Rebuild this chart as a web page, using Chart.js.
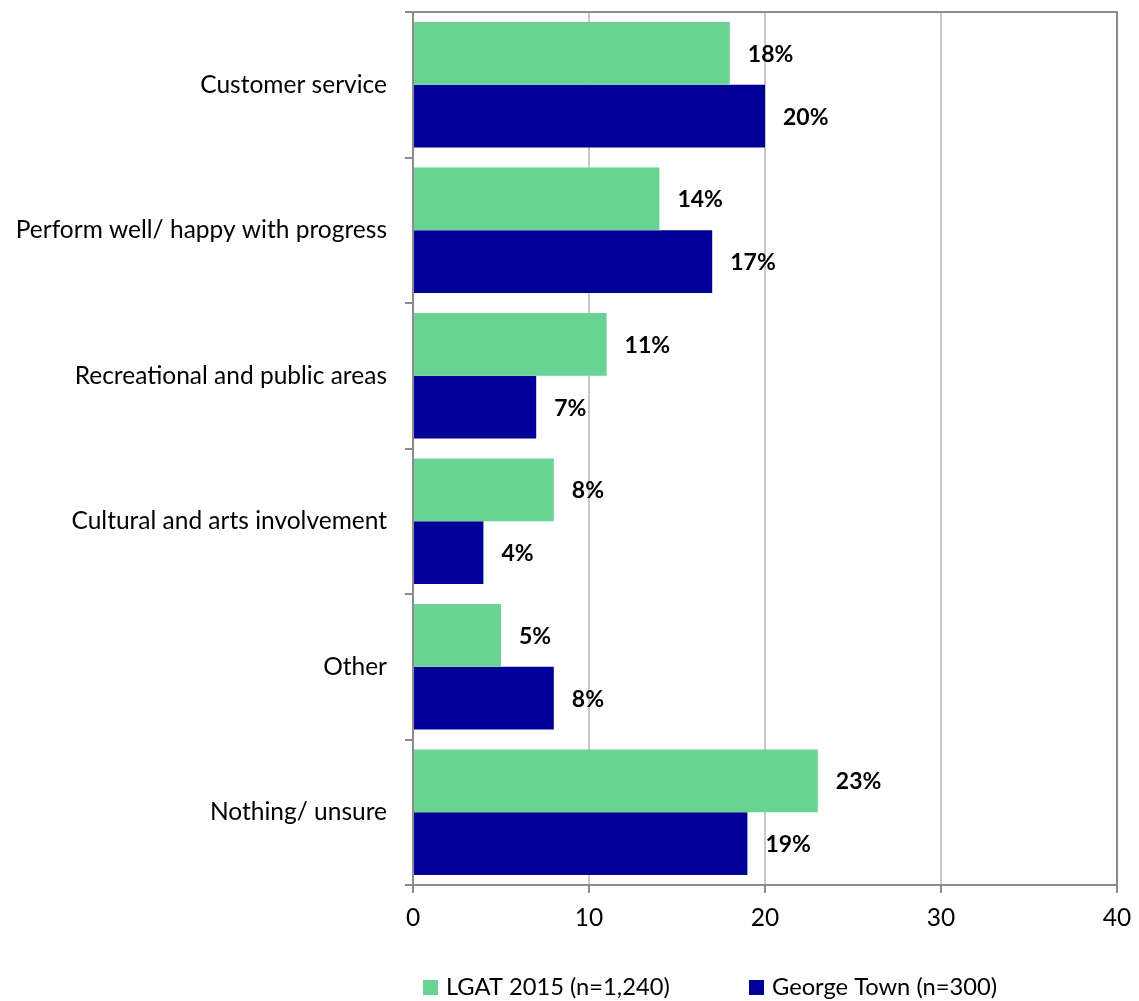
<!DOCTYPE html>
<html>
<head>
<meta charset="utf-8">
<title>Chart</title>
<script src="https://cdn.jsdelivr.net/npm/chart.js@4"></script>
<style>
  body { margin: 0; background: #fff; }
  #wrap { width: 1139px; height: 1001px; }
</style>
</head>
<body>
<div id="wrap"><canvas id="myChart" width="1139" height="1001"></canvas></div>
<script>
// Categories and series
const categories = [
  'Customer service',
  'Perform well/ happy with progress',
  'Recreational and public areas',
  'Cultural and arts involvement',
  'Other',
  'Nothing/ unsure'
];
const lgatValues = [18, 14, 11, 8, 5, 23];
const georgeTownValues = [20, 17, 7, 4, 8, 19];
const seriesNames = ['LGAT 2015 (n=1,240)', 'George Town (n=300)'];
const xTicks = [0, 10, 20, 30, 40];

const FONT = 'Lato, "Open Sans", sans-serif';

// value labels to the right of each bar
const barLabels = {
  id: 'barLabels',
  afterDatasetsDraw(chart) {
    const ctx = chart.ctx;
    ctx.save();
    ctx.font = 'bold 23px ' + FONT;
    ctx.fillStyle = '#000';
    ctx.textAlign = 'left';
    ctx.textBaseline = 'middle';
    chart.data.datasets.forEach((ds, i) => {
      chart.getDatasetMeta(i).data.forEach((bar, j) => {
        ctx.fillText(ds.data[j] + '%', bar.x + 18, bar.y + 1);
      });
    });
    ctx.restore();
  }
};

// top and right edges of the plot box
const plotFrame = {
  id: 'plotFrame',
  afterDraw(chart) {
    const a = chart.chartArea;
    const ctx = chart.ctx;
    ctx.save();
    ctx.strokeStyle = '#8c8c8c';
    ctx.lineWidth = 2;
    ctx.beginPath();
    ctx.moveTo(a.left, a.top);
    ctx.lineTo(a.right, a.top);
    ctx.lineTo(a.right, a.bottom);
    ctx.stroke();
    ctx.restore();
  }
};

// legend row under the axis
const bottomLegend = {
  id: 'bottomLegend',
  afterDraw(chart) {
    const ctx = chart.ctx;
    const y = 987;
    const starts = [423, 749];
    ctx.save();
    ctx.font = '23.7px ' + FONT;
    ctx.textBaseline = 'middle';
    ctx.textAlign = 'left';
    chart.data.datasets.forEach((ds, i) => {
      ctx.fillStyle = ds.backgroundColor;
      ctx.fillRect(starts[i], y - 7, 15, 15);
      ctx.fillStyle = '#000';
      ctx.fillText(ds.label, starts[i] + 23, y);
    });
    ctx.restore();
  }
};

const data = {
  labels: categories,
  datasets: [{
    label: seriesNames[0],
    data: lgatValues,
    backgroundColor: '#69d394'
  }, {
    label: seriesNames[1],
    data: georgeTownValues,
    backgroundColor: '#000099'
  }]
};

const config = {
  type: 'bar',
  data,
  options: {
    indexAxis: 'y',
    responsive: false,
    animation: false,
    categoryPercentage: 0.863,
    barPercentage: 1.0,
    layout: {
      padding: { left: 13, right: 22, top: 12, bottom: 58.6 }
    },
    plugins: {
      legend: { display: false },
      tooltip: { enabled: false }
    },
    scales: {
      x: {
        min: 0,
        max: 40,
        afterBuildTicks: (axis) => { axis.ticks = xTicks.map(v => ({ value: v })); },
        afterFit: (axis) => {
          axis.paddingLeft = 0;
          axis.paddingRight = 0;
        },
        grid: {
          color: '#c8c8c8',
          lineWidth: 2,
          tickColor: '#8c8c8c',
          tickLength: 8
        },
        border: { color: '#8c8c8c', width: 2 },
        ticks: {
          color: '#000',
          padding: 10,
          font: { family: FONT, size: 24.5 }
        }
      },
      y: {
        afterFit: (axis) => {
          axis.width = 400;
          axis.paddingTop = 0;
          axis.paddingBottom = 0;
        },
        grid: {
          drawOnChartArea: false,
          tickColor: '#8c8c8c',
          tickLength: 8,
          lineWidth: 2
        },
        border: { color: '#8c8c8c', width: 2 },
        ticks: {
          color: '#000',
          padding: 18,
          font: { family: FONT, size: 24.5 }
        }
      }
    }
  },
  plugins: [barLabels, plotFrame, bottomLegend]
};

const myChart = new Chart(document.getElementById('myChart'), config);
</script>
</body>
</html>
